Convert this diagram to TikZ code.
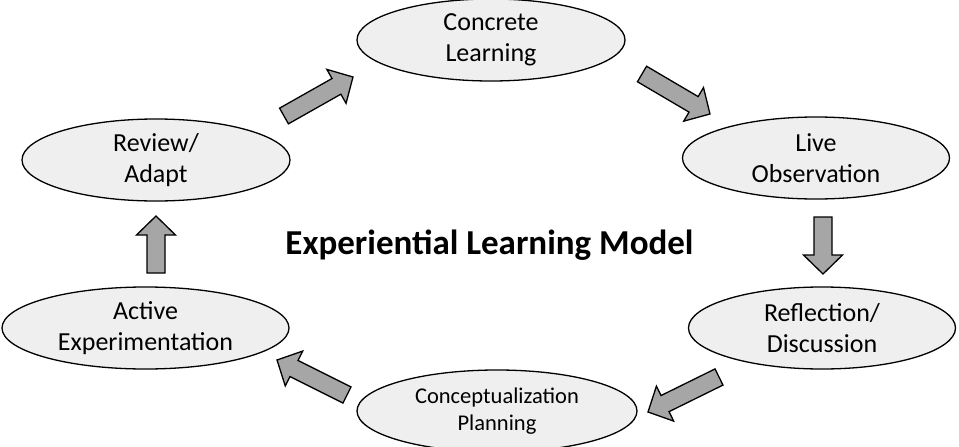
\documentclass[tikz,border=0pt]{standalone}
\usepackage{fontspec}
\setmainfont{Carlito}
\usetikzlibrary{shapes.geometric,calc}
\definecolor{ellfill}{HTML}{EFEFEF}
\definecolor{arrfill}{HTML}{A6A6A6}
\tikzset{
  stage/.style={ellipse, draw=black, line width=1.3pt, fill=ellfill, inner sep=0pt,
    minimum width=#1, minimum height=82pt, align=center,
    font=\fontsize{26}{30.5}\selectfont},
  stage/.default=268pt,
  smalltext/.style={font=\fontsize{22.5}{27.5}\selectfont},
  barrow/.style={draw=black, line width=1.3pt, fill=arrfill, line join=miter},
}
\newcommand{\blockarrow}[2]{%
  \draw[barrow] let \p1=($(#2)-(#1)$), \n1={atan2(\y1,\x1)}, \n2={veclen(\x1,\y1)} in
    [shift={(#1)}, rotate=\n1]
    (0,-9) -- (\n2-19,-9) -- (\n2-19,-19.5) -- (\n2,0) -- (\n2-19,19.5) -- (\n2-19,9) -- (0,9) -- cycle;}
\begin{document}
\begin{tikzpicture}[x=1pt,y=-1pt]
\useasboundingbox (0,0) rectangle (959,447);
\fill[white] (0,0) rectangle (959,447);
\node[stage] (concrete) at (491,40) {Concrete\\Learning};
\node[stage=267pt] (live) at (816,158) {Live\\Observation};
\node[stage=267pt] (refl) at (822,328) {Reflection/\\Discussion};
\node[stage=280pt, smalltext] (concept) at (497,411) {Conceptualization\\Planning};
\node[stage=287pt] (active) at (145.5,328) {Active\\Experimentation};
\node[stage] (review) at (156,160) {Review/\\Adapt};
\node (title) at (489.5,245) {\fontsize{35}{40}\selectfont\bfseries Experiential Learning Model};
\coordinate (a1s) at (284,116); \coordinate (a1e) at (353,77);
\coordinate (a2s) at (642,74);  \coordinate (a2e) at (710,114);
\coordinate (a3s) at (823,217); \coordinate (a3e) at (823,274);
\coordinate (a4s) at (719,377); \coordinate (a4e) at (648,412);
\coordinate (a5s) at (347,395); \coordinate (a5e) at (277,360);
\coordinate (a6s) at (156,273); \coordinate (a6e) at (156,216);
\blockarrow{a1s}{a1e}
\blockarrow{a2s}{a2e}
\blockarrow{a3s}{a3e}
\blockarrow{a4s}{a4e}
\blockarrow{a5s}{a5e}
\blockarrow{a6s}{a6e}
\end{tikzpicture}
\end{document}
